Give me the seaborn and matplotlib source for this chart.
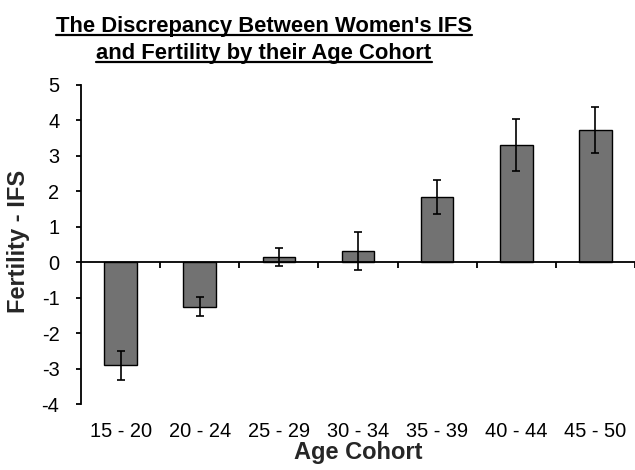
import matplotlib
matplotlib.use("Agg")
import matplotlib.pyplot as plt
import seaborn as sns
import pandas as pd
from matplotlib.lines import Line2D
from matplotlib.ticker import FixedLocator

categories = ["15 - 20", "20 - 24", "25 - 29", "30 - 34", "35 - 39", "40 - 44", "45 - 50"]
values = [-2.91, -1.26, 0.15, 0.31, 1.84, 3.30, 3.73]
errors = [0.40, 0.27, 0.25, 0.54, 0.48, 0.73, 0.64]
title_lines = ["The Discrepancy Between Women's IFS", "and Fertility by their Age Cohort"]
y_ticks = [-4, -3, -2, -1, 0, 1, 2, 3, 4, 5]

sns.set_style("white")
plt.rcParams['font.family'] = ['Liberation Sans', 'DejaVu Sans']

df = pd.DataFrame({"cohort": categories, "diff": values})

fig = plt.figure(figsize=(6.35, 4.7), dpi=100)
ax = fig.add_axes([81/635, 1 - 404/470, (635 - 81)/635, (404 - 85)/470])

sns.barplot(data=df, x="cohort", y="diff", color="#727272", edgecolor="black",
            linewidth=1.0, width=0.41, saturation=1, ax=ax, errorbar=None)
ax.errorbar(range(len(categories)), values, yerr=errors, fmt="none",
            ecolor="black", elinewidth=1.2, capsize=3, capthick=1.2)

ax.set_ylim(-4, 5)
ax.set_xlim(-0.5, len(categories) - 0.5)
ax.set_yticks(y_ticks)
ax.set_yticklabels([str(t) for t in y_ticks])

ax.spines['top'].set_visible(False)
ax.spines['right'].set_visible(False)
ax.spines['bottom'].set_position(('data', 0))
ax.spines['bottom'].set_linewidth(1.3)
ax.spines['left'].set_linewidth(1.3)
ax.spines['bottom'].set_color('black')
ax.spines['left'].set_color('black')

ax.xaxis.set_minor_locator(FixedLocator([i + 0.5 for i in range(len(categories))]))
ax.tick_params(axis='x', which='minor', direction='out', length=4, width=1.3, color='black', bottom=True)
ax.tick_params(axis='x', which='major', length=0, pad=115, labelsize=14.4, colors='black')
ax.tick_params(axis='y', which='major', direction='out', length=3.5, width=1.3, color='black',
               left=True, pad=12, labelsize=14.4, labelcolor='black')

ax.set_xlabel("Age Cohort", fontsize=17, fontweight='bold')
ax.set_ylabel("Fertility - IFS", fontsize=17, fontweight='bold')
ax.xaxis.set_label_coords(0.5, -0.115)
ax.yaxis.set_label_coords(-0.092, 0.51)

# Title with underline
title_x = 264 / 635
baselines = [32, 59]
texts = []
for line, b in zip(title_lines, baselines):
    t = fig.text(title_x, 1 - b/470, line, ha='center', va='baseline',
                 fontsize=15.8, fontweight='bold', color='black')
    texts.append((t, b))

fig.canvas.draw()
renderer = fig.canvas.get_renderer()
for t, b in texts:
    bb = t.get_window_extent(renderer)
    y = 1 - (b + 2.5) / 470
    fig.add_artist(Line2D([bb.x0 / 635, bb.x1 / 635], [y, y], color='black',
                          linewidth=1.6, transform=fig.transFigure))

fig.savefig("out.png", dpi=100)
